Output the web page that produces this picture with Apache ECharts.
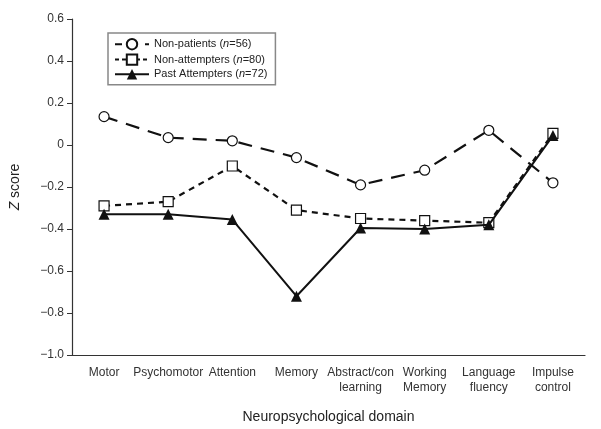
<!DOCTYPE html>
<html>
<head>
<meta charset="utf-8">
<script src="https://cdn.jsdelivr.net/npm/echarts@6/dist/echarts.min.js"></script>
<style>
  html, body { margin: 0; padding: 0; background: #fff; }
  #chart { width: 601px; height: 429px; }
</style>
</head>
<body>
<div id="chart"></div>
<script>
// domains on the x axis
const domains = ['Motor', 'Psychomotor', 'Attention', 'Memory', 'Abstract/con\nlearning',
  'Working\nMemory', 'Language\nfluency', 'Impulse\ncontrol']

// Z scores
const nonPatients = [0.135, 0.035, 0.02, -0.06, -0.19, -0.12, 0.07, -0.18]
const nonAttempters = [-0.29, -0.27, -0.10, -0.31, -0.35, -0.36, -0.37, 0.055]
const pastAttempters = [-0.33, -0.33, -0.355, -0.72, -0.395, -0.40, -0.38, 0.045]

const groupNames = ['Non-patients', 'Non-attempters', 'Past Attempters']
const groupN = { 'Non-patients': 56, 'Non-attempters': 80, 'Past Attempters': 72 }

const font = 'Liberation Sans, Arial, sans-serif'
const chart = echarts.init(document.getElementById('chart'))

const option = {
  animation: false,
  textStyle: { fontFamily: font },
  grid: { left: 71, right: 16, top: 19, bottom: 70 },
  legend: {
    orient: 'vertical',
    left: 108,
    top: 33,
    width: 160,
    padding: [5, 8, 5, 6],
    itemGap: 3,
    itemWidth: 34,
    itemHeight: 13,
    borderColor: '#888',
    borderWidth: 1.5,
    data: [
      { name: groupNames[0], lineStyle: { type: [7, 8] } },
      { name: groupNames[1], lineStyle: { type: [4, 3] } },
      { name: groupNames[2] }
    ],
    formatter: name => name + ' ({i|n}=' + groupN[name] + ')',
    textStyle: {
      fontSize: 11,
      color: '#222',
      rich: { i: { fontStyle: 'italic', fontSize: 11, color: '#222' } }
    }
  },
  xAxis: {
    type: 'category',
    data: domains,
    boundaryGap: true,
    name: 'Neuropsychological domain',
    nameLocation: 'middle',
    nameGap: 55,
    nameTextStyle: { fontSize: 14, color: '#222' },
    axisLine: { onZero: false, lineStyle: { color: '#333', width: 1.2 } },
    axisTick: { length: 4, lineStyle: { color: '#333' } },
    axisLabel: { fontSize: 12, color: '#333', margin: 10, lineHeight: 15, interval: 0 }
  },
  yAxis: {
    type: 'value',
    min: -1.0,
    max: 0.6,
    interval: 0.2,
    name: '{i|Z} score',
    nameLocation: 'middle',
    nameGap: 50,
    nameTextStyle: {
      fontSize: 14, color: '#222',
      rich: { i: { fontStyle: 'italic', fontSize: 14, color: '#222' } }
    },
    splitLine: { show: false },
    axisLine: { show: true, lineStyle: { color: '#333', width: 1.2 } },
    axisTick: { show: true, length: 5, lineStyle: { color: '#333' } },
    axisLabel: {
      fontSize: 12, color: '#333', margin: 8,
      formatter: v => {
        const r = Math.round(v * 10) / 10
        if (r === 0) return '0'
        return (r < 0 ? '\u2212' : '') + Math.abs(r).toFixed(1)
      }
    }
  },
  series: [
    {
      name: 'Non-patients',
      type: 'line',
      data: nonPatients,
      symbol: 'circle',
      symbolSize: 10,
      z: 3,
      lineStyle: { color: '#111', width: 2.2, type: [14, 9] },
      itemStyle: { color: '#fff', borderColor: '#111', borderWidth: 1.2 }
    },
    {
      name: 'Non-attempters',
      type: 'line',
      data: nonAttempters,
      symbol: 'rect',
      symbolSize: 10,
      z: 3,
      lineStyle: { color: '#111', width: 2.2, type: [6, 5] },
      itemStyle: { color: '#fff', borderColor: '#111', borderWidth: 1.2 }
    },
    {
      name: 'Past Attempters',
      type: 'line',
      data: pastAttempters,
      symbol: 'triangle',
      symbolSize: 11,
      z: 4,
      lineStyle: { color: '#111', width: 2 },
      itemStyle: { color: '#111', borderColor: '#111', borderWidth: 0 }
    }
  ]
}

chart.setOption(option)
</script>
</body>
</html>
